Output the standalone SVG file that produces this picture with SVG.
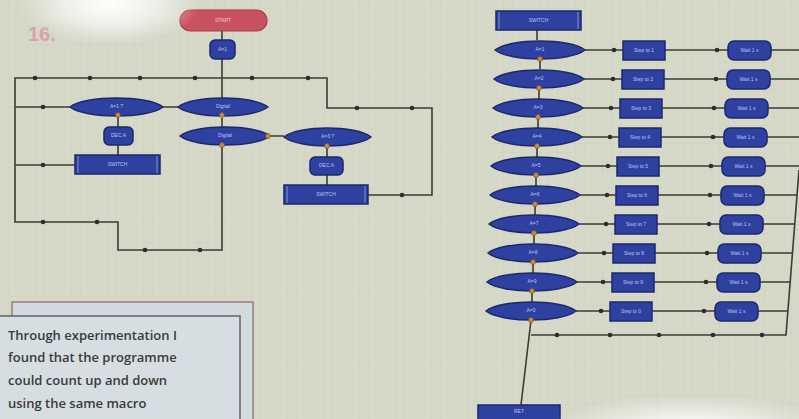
<svg xmlns="http://www.w3.org/2000/svg" width="799" height="419" viewBox="0 0 799 419">
<defs>
<pattern id="grid" width="9" height="9" patternUnits="userSpaceOnUse">
<path d="M9 0V9M0 9H9" fill="none" stroke="#bcbfb1" stroke-width="0.6"/>
</pattern>
<radialGradient id="glare1" cx="0.5" cy="0.5" r="0.5">
<stop offset="0" stop-color="#ffffff" stop-opacity="1"/>
<stop offset="0.5" stop-color="#ffffff" stop-opacity="0.6"/>
<stop offset="1" stop-color="#ffffff" stop-opacity="0"/>
</radialGradient>
<radialGradient id="glare2" cx="0.5" cy="0.5" r="0.5">
<stop offset="0" stop-color="#ffffff" stop-opacity="0.9"/>
<stop offset="1" stop-color="#ffffff" stop-opacity="0"/>
</radialGradient>
<style>
.n{fill:#2f41a0;stroke:#1d276a;stroke-width:1.5}
.t{font-family:"Liberation Sans",Arial,sans-serif;font-size:5px;fill:#b9c4ee;text-anchor:middle;dominant-baseline:middle}
.c{fill:none;stroke:#3a3c36;stroke-width:1.6}
.d{fill:#2c2e28}
.o{fill:#c98a46;stroke:#6b4a2a;stroke-width:0.6}
.bar{stroke:#9aa6dd;stroke-width:0.8}
.note{font-family:"Open Sans","Liberation Sans",sans-serif;font-size:13px;fill:#3a3a3a;font-weight:600}
</style>
</defs>
<rect width="799" height="419" fill="#d6d8c8"/>
<rect width="799" height="419" fill="url(#grid)" opacity="0.55"/>
<text x="28" y="41" font-family="Liberation Sans,sans-serif" font-size="20" font-weight="bold" fill="#d9a3ad">16.</text>

<g id="connectors">
<path class="c" d="M222 31V107M222 118V136M222 145V250H118V222H15V78H327V108H432V195H368"/>
<path class="c" d="M15 107H70M163 107H178M118 115V127M118 145V155M15 165H75M270 136H284M327 146V157M327 175V185"/>
<path class="c" d="M537 30V40"/>
<path class="c" d="M540 59V69M539 88V99M538 117V128M537 146V157M536 175V186M535 204V215M534 233V244M533 262V273M532 291V302M531 320L521 405"/>
<path class="c" d="M531 335H786L799 170"/>
<path class="c" d="M585 50H623M665 50H728M771 50H799M584 79H622M664 79H727M770 79H799M583 108H620M662 108H725M768 108H799M582 137H619M661 137H724M767 137H799M581 166H617M659 166H722M765 166H799M580 195H616M658 195H721M764 195H797M579 224H615M657 224H720M763 224H794M578 253H613M655 253H718M761 253H792M577 282H612M654 282H717M760 282H790M576 311H610M652 311H715M758 311H788"/>
<g class="d">
<circle cx="35" cy="78" r="2.3"/><circle cx="90" cy="78" r="2.3"/><circle cx="140" cy="78" r="2.3"/><circle cx="195" cy="78" r="2.3"/><circle cx="252" cy="78" r="2.3"/><circle cx="308" cy="78" r="2.3"/>
<circle cx="357" cy="108" r="2.3"/><circle cx="412" cy="108" r="2.3"/><circle cx="402" cy="195" r="2.3"/>
<circle cx="43" cy="107" r="2.3"/><circle cx="43" cy="165" r="2.3"/><circle cx="43" cy="222" r="2.3"/><circle cx="97" cy="222" r="2.3"/>
<circle cx="145" cy="250" r="2.3"/><circle cx="200" cy="250" r="2.3"/>
<circle cx="557" cy="335" r="2.3"/><circle cx="610" cy="335" r="2.3"/><circle cx="659" cy="335" r="2.3"/><circle cx="713" cy="335" r="2.3"/><circle cx="762" cy="335" r="2.3"/>
<circle cx="614" cy="50" r="2.3"/><circle cx="717" cy="50" r="2.3"/>
<circle cx="613" cy="79" r="2.3"/><circle cx="716" cy="79" r="2.3"/>
<circle cx="611" cy="108" r="2.3"/><circle cx="714" cy="108" r="2.3"/>
<circle cx="610" cy="137" r="2.3"/><circle cx="713" cy="137" r="2.3"/>
<circle cx="608" cy="166" r="2.3"/><circle cx="711" cy="166" r="2.3"/>
<circle cx="607" cy="195" r="2.3"/><circle cx="710" cy="195" r="2.3"/>
<circle cx="606" cy="224" r="2.3"/><circle cx="709" cy="224" r="2.3"/>
<circle cx="604" cy="253" r="2.3"/><circle cx="707" cy="253" r="2.3"/>
<circle cx="603" cy="282" r="2.3"/><circle cx="706" cy="282" r="2.3"/>
<circle cx="601" cy="311" r="2.3"/><circle cx="704" cy="311" r="2.3"/>
</g>
</g>

<g id="start"><rect x="180" y="10" width="87" height="21" rx="10.5" fill="#c9525f" stroke="#a63a48" stroke-width="1.2"/><text class="t" x="223" y="20.5" style="fill:#f3c8cf">START</text></g>
<g id="set-a"><rect class="n" x="210" y="40" width="25" height="19" rx="5"/><text class="t" x="222.5" y="49.5">A=1</text></g>

<g id="dec-left"><path class="n" d="M70 107C85 95 148 95 163 107C148 119 85 119 70 107Z"/><text class="t" x="116.5" y="107">A=1 ?</text><circle class="o" cx="118" cy="115" r="2.5"/></g>
<g id="input1"><path class="n" d="M178 107C193 95 253 95 268 107C253 119 193 119 178 107Z"/><text class="t" x="223" y="107">Digital</text><circle class="o" cx="222" cy="115" r="2.5"/></g>
<g id="input2"><path class="n" d="M180 136C195 124 255 124 270 136C255 148 195 148 180 136Z"/><text class="t" x="225" y="136">Digital</text><circle class="o" cx="222" cy="145" r="2.5"/><circle class="o" cx="268" cy="136" r="2.5"/></g>
<g id="dec-right"><path class="n" d="M284 137C299 125 356 125 371 137C356 149 299 149 284 137Z"/><text class="t" x="327.5" y="137">A=3 ?</text><circle class="o" cx="327" cy="146" r="2.5"/></g>
<g id="deca-left"><rect class="n" x="104" y="127" width="29" height="18" rx="5"/><text class="t" x="118.5" y="136">DEC A</text></g>
<g id="deca-right"><rect class="n" x="310" y="157" width="33" height="18" rx="5"/><text class="t" x="326.5" y="166">DEC A</text></g>
<g id="macro-left"><rect class="n" x="75" y="155" width="85" height="19"/><line class="bar" x1="78" y1="156" x2="78" y2="173"/><line class="bar" x1="157" y1="156" x2="157" y2="173"/><text class="t" x="117.5" y="164.5">SWITCH</text></g>
<g id="macro-right"><rect class="n" x="284" y="185" width="84" height="19"/><line class="bar" x1="287" y1="186" x2="287" y2="203"/><line class="bar" x1="365" y1="186" x2="365" y2="203"/><text class="t" x="326" y="194.5">SWITCH</text></g>

<g id="macro-top"><rect class="n" x="496" y="11" width="85" height="19"/><line class="bar" x1="499" y1="12" x2="499" y2="29"/><line class="bar" x1="578" y1="12" x2="578" y2="29"/><text class="t" x="538.5" y="20.5">SWITCH</text></g>

<g id="row1"><path class="n" d="M495 50C510 38 570 38 585 50C570 62 510 62 495 50Z"/><text class="t" x="540" y="50">A=1</text><circle class="o" cx="540" cy="59" r="2.5"/><rect class="n" x="623" y="41" width="42" height="19"/><text class="t" x="644" y="50.5">Step to 1</text><rect class="n" x="728" y="41" width="43" height="19" rx="6"/><text class="t" x="749.5" y="50.5">Wait 1 s</text></g>
<g id="row2"><path class="n" d="M494 79C509 67 569 67 584 79C569 91 509 91 494 79Z"/><text class="t" x="539" y="79">A=2</text><circle class="o" cx="539" cy="88" r="2.5"/><rect class="n" x="622" y="70" width="42" height="19"/><text class="t" x="643" y="79.5">Step to 2</text><rect class="n" x="727" y="70" width="43" height="19" rx="6"/><text class="t" x="748.5" y="79.5">Wait 1 s</text></g>
<g id="row3"><path class="n" d="M493 108C508 96 568 96 583 108C568 120 508 120 493 108Z"/><text class="t" x="538" y="108">A=3</text><circle class="o" cx="538" cy="117" r="2.5"/><rect class="n" x="620" y="99" width="42" height="19"/><text class="t" x="641" y="108.5">Step to 3</text><rect class="n" x="725" y="99" width="43" height="19" rx="6"/><text class="t" x="746.5" y="108.5">Wait 1 s</text></g>
<g id="row4"><path class="n" d="M492 137C507 125 567 125 582 137C567 149 507 149 492 137Z"/><text class="t" x="537" y="137">A=4</text><circle class="o" cx="537" cy="146" r="2.5"/><rect class="n" x="619" y="128" width="42" height="19"/><text class="t" x="640" y="137.5">Step to 4</text><rect class="n" x="724" y="128" width="43" height="19" rx="6"/><text class="t" x="745.5" y="137.5">Wait 1 s</text></g>
<g id="row5"><path class="n" d="M491 166C506 154 566 154 581 166C566 178 506 178 491 166Z"/><text class="t" x="536" y="166">A=5</text><circle class="o" cx="536" cy="175" r="2.5"/><rect class="n" x="617" y="157" width="42" height="19"/><text class="t" x="638" y="166.5">Step to 5</text><rect class="n" x="722" y="157" width="43" height="19" rx="6"/><text class="t" x="743.5" y="166.5">Wait 1 s</text></g>
<g id="row6"><path class="n" d="M490 195C505 183 565 183 580 195C565 207 505 207 490 195Z"/><text class="t" x="535" y="195">A=6</text><circle class="o" cx="535" cy="204" r="2.5"/><rect class="n" x="616" y="186" width="42" height="19"/><text class="t" x="637" y="195.5">Step to 6</text><rect class="n" x="721" y="186" width="43" height="19" rx="6"/><text class="t" x="742.5" y="195.5">Wait 1 s</text></g>
<g id="row7"><path class="n" d="M489 224C504 212 564 212 579 224C564 236 504 236 489 224Z"/><text class="t" x="534" y="224">A=7</text><circle class="o" cx="534" cy="233" r="2.5"/><rect class="n" x="615" y="215" width="42" height="19"/><text class="t" x="636" y="224.5">Step to 7</text><rect class="n" x="720" y="215" width="43" height="19" rx="6"/><text class="t" x="741.5" y="224.5">Wait 1 s</text></g>
<g id="row8"><path class="n" d="M488 253C503 241 563 241 578 253C563 265 503 265 488 253Z"/><text class="t" x="533" y="253">A=8</text><circle class="o" cx="533" cy="262" r="2.5"/><rect class="n" x="613" y="244" width="42" height="19"/><text class="t" x="634" y="253.5">Step to 8</text><rect class="n" x="718" y="244" width="43" height="19" rx="6"/><text class="t" x="739.5" y="253.5">Wait 1 s</text></g>
<g id="row9"><path class="n" d="M487 282C502 270 562 270 577 282C562 294 502 294 487 282Z"/><text class="t" x="532" y="282">A=9</text><circle class="o" cx="532" cy="291" r="2.5"/><rect class="n" x="612" y="273" width="42" height="19"/><text class="t" x="633" y="282.5">Step to 9</text><rect class="n" x="717" y="273" width="43" height="19" rx="6"/><text class="t" x="738.5" y="282.5">Wait 1 s</text></g>
<g id="row10"><path class="n" d="M486 311C501 299 561 299 576 311C561 323 501 323 486 311Z"/><text class="t" x="531" y="311">A=0</text><circle class="o" cx="531" cy="320" r="2.5"/><rect class="n" x="610" y="302" width="42" height="19"/><text class="t" x="631" y="311.5">Step to 0</text><rect class="n" x="715" y="302" width="43" height="19" rx="6"/><text class="t" x="736.5" y="311.5">Wait 1 s</text></g>

<g id="return"><rect class="n" x="478" y="405" width="82" height="20"/><text class="t" x="519" y="412">RET</text></g>

<g id="note">
<rect x="12" y="302" width="241" height="130" fill="#d3dade" stroke="#9a7a80" stroke-width="1.5"/>
<rect x="-2" y="316" width="242" height="120" fill="#d6dee2" stroke="#5c6470" stroke-width="1.5"/>
<text class="note" x="8" y="340">Through experimentation I</text>
<text class="note" x="8" y="362">found that the programme</text>
<text class="note" x="8" y="385">could count up and down</text>
<text class="note" x="8" y="408">using the same macro</text>
</g>

<ellipse cx="110" cy="5" rx="90" ry="40" fill="url(#glare1)"/>
<ellipse cx="690" cy="425" rx="140" ry="30" fill="url(#glare2)"/>
</svg>
